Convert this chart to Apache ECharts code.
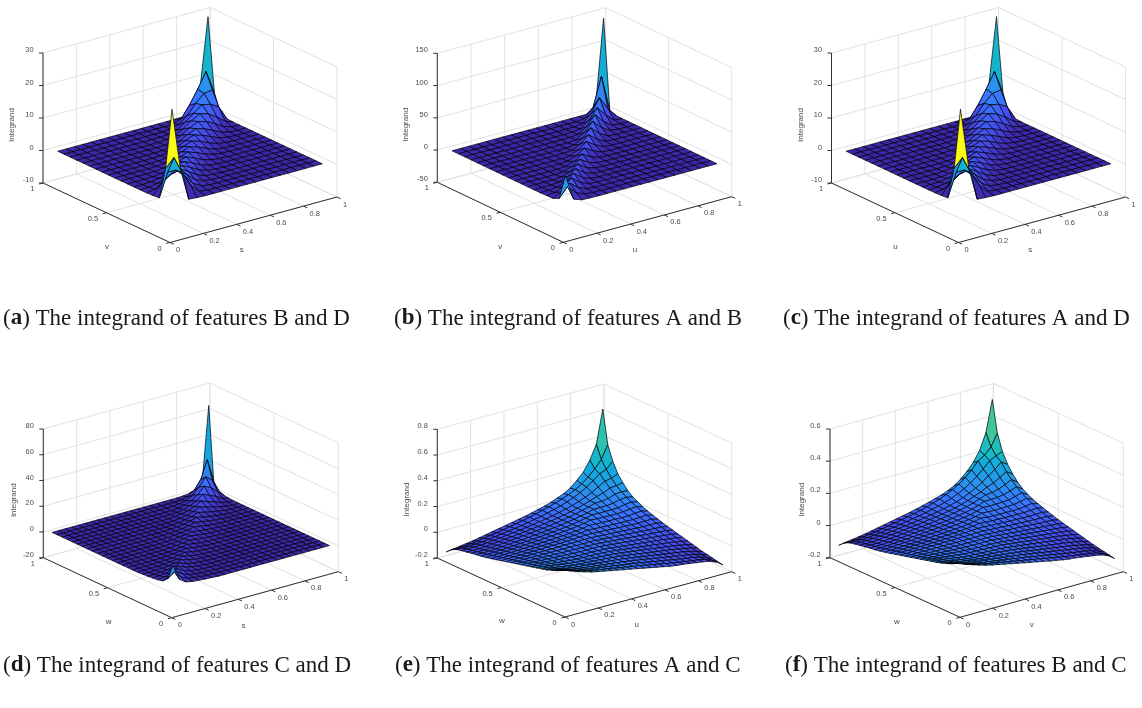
<!DOCTYPE html>
<html><head><meta charset="utf-8">
<style>html,body{margin:0;padding:0;background:#fff}#c{width:1142px;height:708px}</style>
<script src="https://cdn.jsdelivr.net/npm/echarts@6/dist/echarts.min.js"></script>
</head><body><div id="c"></div>
<script>
// grid coordinates of the sampled surfaces
const gridCoarse=[.05,.1,.15,.2,.25,.3,.35,.4,.45,.5,.55,.6,.65,.7,.75,.8,.85,.9,.95];
const gridFine=[.03,.069,.108,.148,.187,.226,.265,.304,.343,.383,.422,.461,.5,.539,.578,.617,.657,.696,.735,.774,.813,.852,.892,.931,.97];
// symmetric surfaces: each row ends on the diagonal; cells missing at the row's start are 0
const integrandBD=[[29.4],[10.3,13],[.3,7.5,7.5],[.1,3,5,5.6],[.4,2,3.8,4.6],[.1,.5,1.6,3.1,4],[.1,.5,1.4,2.7,3.6],[.1,.4,1.3,2.5,3.4],[.1,.4,1.2,2.4,3.3],[.1,.4,1.2,2.4,3.3],[.1,.4,1.3,2.5,3.4],[.1,.5,1.4,2.7,3.7],[.1,.5,1.5,2.9,4],[.1,.6,1.8,3.3,4.6],[.2,.7,2.1,3.9,5.4],[.2,.9,2.6,4.6,6.5],[.2,1,3,6,8.4],[.2,1,4.5,8.8,13.5],[.1,.6,6.5,28.8]];
const integrandAB=[[45],[5,20],[.7,7,17],[.3,1.6,7,17],[.2,1.4,6.5,16],[.1,1.2,6,15],[.1,1,5.5,14],[.9,5,13],[.9,5,13],[1,5.5,14],[1,6.5,16],[.1,1.2,7.5,18.4],[.1,1.3,8,21],[.1,1.4,9,23],[.2,1.5,10,25],[.2,1.8,11,27.6],[.2,2,13,35],[.1,1.5,15,60],[.2,2.5,142]];
const integrandAD=[[29.4],[10.3,13],[.3,7.5,7.5],[.1,3,5,5.6],[.4,2,3.8,4.6],[.1,.5,1.6,3.1,4],[.1,.5,1.4,2.7,3.6],[.1,.4,1.3,2.5,3.4],[.1,.4,1.2,2.4,3.3],[.1,.4,1.2,2.4,3.3],[.1,.4,1.3,2.5,3.4],[.1,.5,1.4,2.7,3.7],[.1,.5,1.5,2.9,4],[.1,.6,1.8,3.3,4.6],[.2,.7,2.1,3.9,5.4],[.2,.9,2.6,4.6,6.5],[.2,1,3,6,8.4],[.2,1,4.5,8.8,13.5],[.1,.6,6.5,28.8]];
const integrandCD=[[18],[6,10],[2.5,4.5,7.5],[1.5,2.2,3.6,5.8],[1,1.3,1.8,3,4.6],[.6,.7,.9,1.4,2.4,3.8],[.4,.4,.5,.7,1.2,2,3.2],[.3,.3,.4,.6,1,1.8,2.8],[.2,.3,.5,.9,1.6,2.5],[.2,.4,.8,1.5,2.3],[.2,.4,.8,1.4,2.2],[.2,.4,.8,1.4,2.2],[.2,.4,.8,1.5,2.3],[.2,.4,.9,1.6,2.5],[.2,.5,1,1.7,2.8],[.2,.5,1.1,2,3.2],[.3,.6,1.3,2.3,3.8],[.3,.7,1.5,2.7,4.5],[.3,.8,1.8,3.2,5.5],[.4,1,2.2,4,7],[.4,1.2,2.8,5,8.8],[.5,1.5,3.5,6.8,12],[.5,1.6,4.5,9.5,16],[.4,1.5,5,12,26],[.2,.8,2.5,8,65]];
const integrandAC=[[.14],[.12,.105],[.1,.09,.08],[.085,.075,.06,.05],[.07,.062,.05,.04,.032],[.06,.052,.043,.034,.026,.02],[.05,.044,.037,.03,.023,.015,.01],[.04,.035,.03,.024,.018,.013,.007,.003],[.03,.026,.022,.018,.014,.01,.006,.002,-.002],[.02,.017,.014,.011,.009,.006,.003,.001,-.002,-.004],[.01,.008,.006,.005,.003,.002,0,-.001,-.002,-.004,-.005],[0,-.001,-.001,-.002,-.002,-.003,-.003,-.003,-.004,-.004,-.005,-.005],[-.01,-.01,-.009,-.009,-.008,-.008,-.007,-.007,-.006,-.005,-.005,-.004,-.003],[-.02,-.019,-.018,-.017,-.016,-.015,-.014,-.012,-.011,-.01,-.008,-.006,-.003,0],[-.03,-.028,-.027,-.025,-.024,-.022,-.02,-.019,-.017,-.015,-.012,-.01,-.006,-.001,.006],[-.04,-.038,-.036,-.034,-.032,-.03,-.028,-.025,-.023,-.02,-.017,-.014,-.01,-.005,.002,.012],[-.05,-.048,-.045,-.043,-.04,-.037,-.034,-.031,-.028,-.025,-.021,-.017,-.012,-.006,0,.008,.02],[-.058,-.057,-.054,-.051,-.048,-.045,-.041,-.038,-.034,-.03,-.026,-.021,-.016,-.01,-.003,.006,.017,.03],[-.063,-.065,-.063,-.06,-.056,-.052,-.048,-.044,-.04,-.035,-.03,-.025,-.019,-.012,-.004,.005,.015,.027,.04],[-.07,-.073,-.072,-.068,-.064,-.06,-.055,-.05,-.045,-.04,-.034,-.028,-.022,-.014,-.006,.004,.015,.028,.041,.057],[-.078,-.081,-.08,-.077,-.072,-.067,-.062,-.057,-.051,-.045,-.039,-.032,-.025,-.017,-.008,.002,.014,.027,.042,.058,.077],[-.085,-.088,-.087,-.085,-.08,-.075,-.069,-.063,-.056,-.05,-.043,-.035,-.027,-.018,-.008,.003,.016,.03,.047,.066,.09,.12],[-.095,-.098,-.098,-.095,-.091,-.085,-.078,-.071,-.064,-.056,-.047,-.038,-.028,-.017,-.005,.008,.023,.04,.06,.085,.115,.15,.19],[-.115,-.118,-.115,-.11,-.103,-.095,-.087,-.079,-.07,-.06,-.05,-.04,-.028,-.015,-.002,.012,.028,.045,.065,.09,.12,.16,.21,.27],[-.15,-.143,-.135,-.127,-.12,-.11,-.1,-.09,-.08,-.07,-.06,-.05,-.04,-.028,-.015,-.002,.014,.035,.055,.085,.13,.18,.26,.37,.63]];
const integrandBC=[[.12],[.1,.09],[.085,.075,.062],[.072,.062,.05,.04],[.06,.052,.043,.034,.028],[.05,.044,.036,.029,.022,.016],[.042,.037,.031,.025,.019,.012,.008],[.034,.03,.025,.02,.015,.011,.006,.003],[.025,.022,.018,.015,.012,.008,.005,.002,-.002],[.017,.014,.012,.009,.007,.005,.002,.001,-.002,-.003],[.008,.007,.005,.004,.002,.002,0,-.001,-.002,-.003,-.004],[0,-.001,-.001,-.002,-.002,-.002,-.002,-.003,-.003,-.003,-.004,-.004],[-.008,-.008,-.007,-.007,-.007,-.006,-.006,-.005,-.005,-.004,-.004,-.003,-.002],[-.016,-.015,-.015,-.014,-.013,-.012,-.011,-.01,-.009,-.008,-.006,-.005,-.002,0],[-.025,-.023,-.022,-.02,-.019,-.018,-.016,-.015,-.014,-.012,-.01,-.008,-.005,-.001,.006],[-.032,-.031,-.029,-.028,-.026,-.024,-.022,-.02,-.018,-.016,-.014,-.011,-.008,-.004,.002,.012],[-.04,-.038,-.036,-.034,-.032,-.03,-.027,-.025,-.022,-.02,-.017,-.014,-.01,-.005,0,.007,.018],[-.046,-.046,-.044,-.041,-.038,-.036,-.033,-.03,-.027,-.024,-.021,-.017,-.013,-.008,-.002,.005,.015,.028],[-.05,-.052,-.051,-.048,-.045,-.042,-.038,-.035,-.032,-.028,-.024,-.02,-.015,-.01,-.003,.004,.013,.025,.04],[-.056,-.058,-.058,-.055,-.051,-.048,-.044,-.04,-.036,-.032,-.027,-.022,-.017,-.011,-.004,.004,.014,.026,.04,.055],[-.062,-.065,-.064,-.061,-.057,-.053,-.049,-.045,-.04,-.036,-.031,-.025,-.019,-.013,-.005,.003,.014,.027,.042,.058,.078],[-.068,-.07,-.07,-.068,-.064,-.06,-.055,-.05,-.045,-.04,-.034,-.028,-.021,-.014,-.005,.004,.016,.03,.048,.068,.092,.122],[-.076,-.079,-.079,-.077,-.073,-.068,-.062,-.057,-.051,-.044,-.037,-.03,-.022,-.013,-.003,.008,.022,.04,.06,.085,.115,.15,.19],[-.092,-.095,-.092,-.088,-.082,-.076,-.07,-.063,-.056,-.048,-.04,-.031,-.022,-.011,.001,.015,.032,.052,.075,.105,.14,.185,.21,.25],[-.12,-.114,-.108,-.102,-.096,-.088,-.08,-.072,-.064,-.056,-.048,-.04,-.03,-.02,-.01,.002,.014,.03,.05,.078,.115,.16,.225,.325,.52]];
// tick values and labels
const floorTicksS=[0,.2,.4,.6,.8,1];
const floorLabelsS=['0','0.2','0.4','0.6','0.8','1'];
const floorTicksV=[0,.5,1];
const floorLabelsV=['0','0.5','1'];
const zTicksBD=[-10,0,10,20,30];
const zTicksAB=[-50,0,50,100,150];
const zTicksCD=[-20,0,20,40,60,80];
const zTicksAC=[-.2,0,.2,.4,.6,.8];
const zTicksBC=[-.2,0,.2,.4,.6];
// panel layout
const panels=[
 {o:[170,242.5],s:[167,-45.5],v:[-127,-59.5],h:130,zt:zTicksBD,gr:gridCoarse,tb:integrandBD,ns:'s',nv:'v'},
 {o:[563.3,242.3],s:[168.4,-45.6],v:[-126,-60],h:129,zt:zTicksAB,gr:gridCoarse,tb:integrandAB,ns:'u',nv:'v'},
 {o:[958.5,242.5],s:[167,-45.5],v:[-127,-59.5],h:130,zt:zTicksBD,gr:gridCoarse,tb:integrandAD,ns:'s',nv:'u'},
 {o:[171.7,617.7],s:[166.6,-46],v:[-128.4,-60],h:128.7,zt:zTicksCD,gr:gridFine,tb:integrandCD,ns:'s',nv:'w'},
 {o:[565,617],s:[166.7,-45.3],v:[-127.7,-59],h:128.7,zt:zTicksAC,gr:gridFine,tb:integrandAC,ns:'u',nv:'w'},
 {o:[960,617.3],s:[163.3,-45.6],v:[-130,-59.6],h:128.7,zt:zTicksBC,gr:gridFine,tb:integrandBC,ns:'v',nv:'w'}
];
const captions=[
 {l:'a',t:'The integrand of features B and D',x:3,y:307},
 {l:'b',t:'The integrand of features A and B',x:394,y:307},
 {l:'c',t:'The integrand of features A and D',x:783,y:307},
 {l:'d',t:'The integrand of features C and D',x:3,y:654},
 {l:'e',t:'The integrand of features A and C',x:395,y:654},
 {l:'f',t:'The integrand of features B and C',x:785,y:654}
];
const parulaStops=[[.2422,.1504,.6603],[.278,.299,.94],[.218,.457,.997],[.154,.59,.922],[.07,.66,.87],[.09,.74,.76],[.3,.784,.57],[.53,.8,.37],[.78,.76,.2],[.97,.79,.2],[.9769,.9839,.0805]];
function parula(t){t=Math.max(0,Math.min(1,t))*10;const a=Math.min(9,Math.floor(t)),f=t-a,A=parulaStops[a],B=parulaStops[a+1];
 return 'rgb('+[0,1,2].map(k=>Math.round((A[k]+(B[k]-A[k])*f)*255)).join(',')+')';}
function full(tb){const n=tb.length,m=[];for(let i=0;i<n;i++)m.push(new Array(n).fill(0));
 tb.forEach((r,j)=>{const off=j+1-r.length;r.forEach((val,k)=>{m[off+k][j]=val;m[j][off+k]=val;});});return m;}
function place(p,s,v,z){const a=p.zt[0],b=p.zt[p.zt.length-1],zn=(z-a)/(b-a);
 return [p.o[0]+s*p.s[0]+v*p.v[0],p.o[1]+s*p.s[1]+v*p.v[1]-zn*p.h];}
const series=[];
panels.forEach(p=>{
 const Z=full(p.tb),n=p.gr.length;let mn=Infinity,mx=-Infinity;Z.forEach(r=>r.forEach(x=>{mn=Math.min(mn,x);mx=Math.max(mx,x);}));
 const z0=p.zt[0],z1=p.zt[p.zt.length-1];
 series.push({type:'custom',coordinateSystem:'cartesian2d',clip:false,silent:true,data:[[0,0]],encode:{x:0,y:1},
  renderItem(par,api){
   const kids=[];
   const line=(P,Q,c,w)=>{const A=api.coord(P),B=api.coord(Q);kids.push({type:'line',shape:{x1:A[0],y1:A[1],x2:B[0],y2:B[1]},style:{stroke:c,lineWidth:w}});};
   const text=(P,t,al,fs,rot)=>{const A=api.coord(P);kids.push({type:'text',x:A[0],y:A[1],rotation:rot||0,style:{text:t,align:al,verticalAlign:'middle',fill:'#4a4a4a',fontFamily:'Liberation Sans',fontSize:fs}});};
   const G='#e2e2e2';
   floorTicksS.forEach(s=>{line(place(p,s,0,z0),place(p,s,1,z0),G,1);line(place(p,s,1,z0),place(p,s,1,z1),G,1);});
   floorTicksV.forEach(v=>{line(place(p,0,v,z0),place(p,1,v,z0),G,1);line(place(p,1,v,z0),place(p,1,v,z1),G,1);});
   p.zt.forEach(z=>{line(place(p,0,1,z),place(p,1,1,z),G,1);line(place(p,1,1,z),place(p,1,0,z),G,1);});
   const K='#303030';
   line(place(p,0,1,z0),place(p,0,1,z1),K,1);line(place(p,0,1,z0),place(p,0,0,z0),K,1);line(place(p,0,0,z0),place(p,1,0,z0),K,1);
   p.zt.forEach(z=>{const A=place(p,0,1,z);line(A,[A[0]-4,A[1]],K,1);text([A[0]-9.5,A[1]-3],String(z),'right',7.4);});
   floorTicksS.forEach((s,i)=>{const A=place(p,s,0,z0);line(A,[A[0]+3.6,A[1]+1.7],K,1);text([A[0]+6,A[1]+7.5],floorLabelsS[i],'left',7.4);});
   floorTicksV.forEach((v,i)=>{const A=place(p,0,v,z0);line(A,[A[0]-3.8,A[1]+1],K,1);text([A[0]-8.5,A[1]+6],floorLabelsV[i],'right',7.4);});
   text([p.o[0]-158,p.o[1]-117.5],'Integrand','center',8,Math.PI/2);
   text([p.o[0]-63,p.o[1]+4.2],p.nv,'center',8);
   text([p.o[0]+71.7,p.o[1]+7.7],p.ns,'center',8);
   return {type:'group',children:kids};
  }});
 const cells=[];for(let i=n-2;i>=0;i--)for(let j=n-2;j>=0;j--)cells.push([i,j]);
 series.push({type:'custom',coordinateSystem:'cartesian2d',clip:false,silent:true,data:cells,encode:{x:0,y:1},
  renderItem(par,api){
   const i=api.value(0),j=api.value(1),g=p.gr;
   const c=(a,b)=>api.coord(place(p,g[a],g[b],Z[a][b]));
   return {type:'polygon',shape:{points:[c(i,j),c(i+1,j),c(i+1,j+1),c(i,j+1)]},
    style:{fill:parula((Z[i][j]-mn)/(mx-mn)),stroke:'#000008',lineWidth:.7,lineJoin:'round'}};
  }});
});
const chart=echarts.init(document.getElementById('c'));
chart.setOption({animation:false,backgroundColor:'#fff',
 title:captions.map(c=>({text:'({b|'+c.l+'}) '+c.t,left:c.x,top:c.y,padding:0,
  textStyle:{fontFamily:'Liberation Serif',fontSize:23,fontWeight:'normal',color:'#1a1a1a',
   rich:{b:{fontFamily:'Liberation Serif',fontSize:23,fontWeight:'bold',color:'#1a1a1a'}}}})),
 grid:{left:0,top:0,width:1142,height:708},
 xAxis:{type:'value',min:0,max:1142,show:false},
 yAxis:{type:'value',min:0,max:708,inverse:true,show:false},
 tooltip:{show:false},
 series});
</script></body></html>
